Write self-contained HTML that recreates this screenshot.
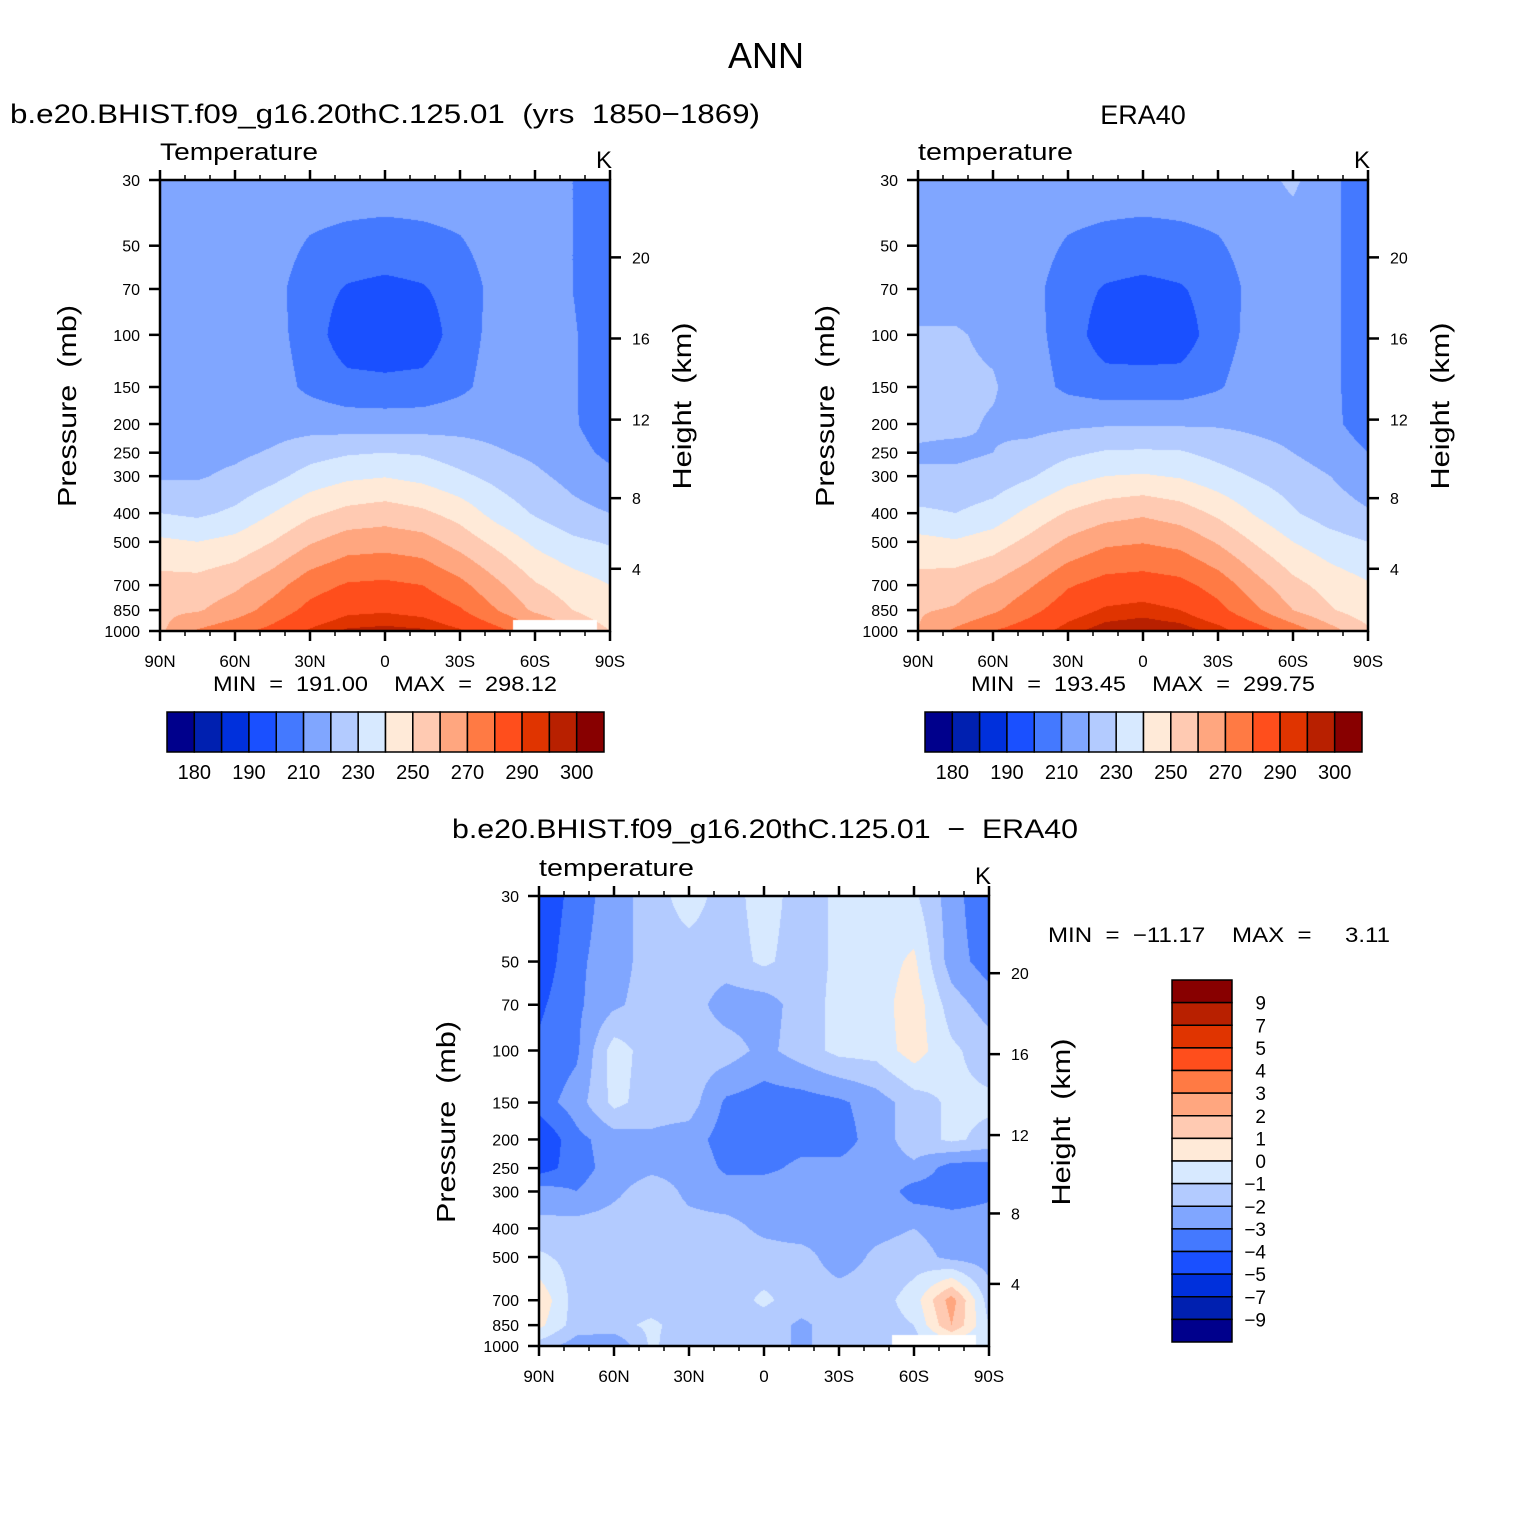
<!DOCTYPE html>
<html><head><meta charset="utf-8">
<style>
body{margin:0;background:#fff;}
#wrap{position:relative;width:1530px;height:1530px;overflow:hidden;background:#fff;font-family:"Liberation Sans",sans-serif;}
canvas{position:absolute;}
svg{position:absolute;left:0;top:0;}
</style></head>
<body>
<div id="wrap">
<canvas id="c1" style="left:160px;top:180px" width="450" height="451"></canvas>
<canvas id="c2" style="left:918px;top:180px" width="450" height="451"></canvas>
<canvas id="c3" style="left:539px;top:896px" width="450" height="450"></canvas>
<svg id="ov" width="1530" height="1530">
<text x="766" y="68" font-size="36" text-anchor="middle">ANN</text>
<text x="10" y="123" font-size="27" textLength="750" lengthAdjust="spacingAndGlyphs" style="white-space:pre">b.e20.BHIST.f09_g16.20thC.125.01  (yrs  1850−1869)</text>
<text x="1143" y="124" font-size="27" text-anchor="middle">ERA40</text>
<text x="452" y="838" font-size="27" textLength="626" lengthAdjust="spacingAndGlyphs" style="white-space:pre">b.e20.BHIST.f09_g16.20thC.125.01  −  ERA40</text>
</svg>
</div>
<script>
const lats=[90,75,60,45,30,15,0,-15,-30,-45,-60,-75,-90];
const levels=[30,50,70,100,150,200,250,300,400,500,700,850,1000];
const modelT=[
[216,216,216,216,215,215,215,215,215,216,215,210,204],
[215,215,215,214,209,207,206,207,209,214,214,210,204],
[215,215,215,213,205,199,197,199,205,213,214,210,204],
[215,215,215,213,206,193,192,193,206,213,214,211,204],
[215,215,215,214,208,204,203,204,208,214,215,211,204],
[216,216,216,216,216,215,215,215,216,216,216,211,205],
[217,217,218,221,226,229,230,229,225,221,218,213,208],
[219,219,222,227,234,238,239.5,237,232,227,222,217,212],
[230,228,232,240,248,253,255,252,246,236,229,223,220],
[242,240,243,250,259,265,266,264,256,247,238,232,229],
[254,254,258,266,276,281,282,280,273,262,251,245,240],
[258,259,265,274,283,288,289,287,281,270,258,250,242],
[258,271,277,283,291,296,297,296,291,283,274,262,250]];
const eraT=[
[216,216,216,216,215,215,215,215,215,216,222,212,205],
[216,216,216,214,209,207,206,207,209,214,214,212,205],
[216,216,216,213,205,199,197,199,205,213,215,212,205],
[221,221,218,213,206,194,193,194,206,213,215,212,205],
[222,222,221,214,208,205,205,205,209,215,216,212,205],
[222,222,219,217,218,219,219,219,219,218,217,212,206],
[219,218,220,223,228,231,231.5,231,227,223,220,215,210],
[221,222,224,229,236,240,241,239,234,229,225,220,214],
[232,230,234,243,251,256,258.5,255,248,239,231,225,221],
[243,241,245,253,262,268,269.5,267,259,249,240,234,230],
[254,256,261,269,279,284,285,283,276,264,253,246,241],
[259,261,268,277,286,291,292.5,290,283,272,260,251,244],
[260,272,280,286,293,298,299.5,298,293,285,276,264,252]];
const diffT=[
[-5,-3.5,-2.5,-1.5,-0.5,-1.5,-0.5,-1.5,-0.8,-0.5,-0.8,-2.5,-4],
[-4.7,-3.2,-2.5,-1.5,-1.5,-1.5,-0.8,-1.5,-0.8,-0.5,0.2,-2.5,-3.5],
[-4.2,-3.2,-2.2,-1.5,-1.5,-2.5,-2.5,-1.5,-0.7,-0.5,0.6,-1.5,-2.5],
[-3.8,-3.2,-0.5,-1.5,-1.5,-1.5,-2.3,-1.5,-0.7,-0.6,0.5,-0.8,-1.5],
[-3.5,-2.5,-0.7,-1.5,-1.5,-3.2,-3.5,-3.5,-3.2,-2.5,-1.5,-0.8,-0.8],
[-5,-3.3,-2.5,-2.2,-2.5,-3.5,-3.5,-3.3,-3.5,-2.5,-1.5,-0.8,-1.3],
[-4.5,-3.5,-2.5,-2.2,-2.3,-3.2,-3.2,-2.8,-2.7,-2.5,-2.2,-3.5,-3.5],
[-2.5,-3,-2.2,-1.5,-2.2,-2.5,-2.5,-2.6,-2.5,-2.2,-3.5,-3.5,-3.2],
[-1.7,-1.5,-1.5,-1.5,-1.7,-1.7,-2.2,-2.5,-2.4,-2.3,-2,-2.5,-2.5],
[-0.8,-1.4,-1.5,-1.5,-1.5,-1.5,-1.6,-1.6,-2.5,-1.8,-1.5,-2.3,-2.5],
[0.8,-1.5,-1.5,-1.5,-1.5,-1.5,-0.8,-1.5,-1.5,-1.5,-0.5,2.5,-1.5],
[0.3,-1.5,-1.3,-0.8,-1.5,-1.5,-1.5,-2.2,-1.5,-1.5,-1,2,-1],
[-1.5,-2.5,-3,-0.8,-1.8,-1.8,-1.5,-2.2,-1.5,-1.5,-1.5,-1,-1]];
const tempLevels=[180,185,190,200,210,220,230,240,250,260,270,280,290,295,300];
const tempLabels=["180","190","210","230","250","270","290","300"];
const diffLevels=[-9,-7,-5,-4,-3,-2,-1,0,1,2,3,4,5,7,9];
const diffLabels=["9","7","5","4","3","2","1","0","−1","−2","−3","−4","−5","−7","−9"];
const maskLat=[-51,-85];
const maskP=921;
const pTicks=[30,50,70,100,150,200,250,300,400,500,700,850,1000];
const latTicks=[90,60,30,0,-30,-60,-90];
const latTickLabels=["90N","60N","30N","0","30S","60S","90S"];
const hTicks=[4,8,12,16,20];
const colors=["#00008c","#0020b0","#0030dc","#1a50ff","#4479ff","#80a6ff","#b3cbff","#d7e9ff","#ffead8","#ffcab2","#ffa67f","#ff7a44","#ff4e1c","#e03400","#b82000","#880000"];

const NS="http://www.w3.org/2000/svg";
const ov=document.getElementById('ov');
function mk(tag,attrs,txt){const e=document.createElementNS(NS,tag);for(const k in attrs)e.setAttribute(k,attrs[k]);if(txt!==undefined)e.textContent=txt;ov.appendChild(e);return e;}
function hex(c){return [parseInt(c.substr(1,2),16),parseInt(c.substr(3,2),16),parseInt(c.substr(5,2),16)];}
const rgb=colors.map(hex);
function bin(v,lv){let k=0;while(k<lv.length&&v>=lv[k])k++;return k;}
function hToP(z){z*=1000;if(z<=11000)return 1013.25*Math.pow(1-2.25577e-5*z,5.25588);return 226.32*Math.exp(-(z-11000)/6341.6);}

function panel(o){
  const W=450,H=o.h;
  const xS=lat=>o.x+(90-lat)/180*W;
  const yS=p=>o.y+Math.log(p/30)/Math.log(1000/30)*H;
  const cv=document.getElementById(o.cid),ctx=cv.getContext('2d');
  const img=ctx.createImageData(W,H);
  const lp=levels.map(Math.log);
  for(let py=0;py<H;py++){
    const p=30*Math.exp((py+0.5)/H*Math.log(1000/30)),l=Math.log(p);
    let j=0;while(j<levels.length-2&&l>lp[j+1])j++;
    const fy=Math.min(1,Math.max(0,(l-lp[j])/(lp[j+1]-lp[j])));
    for(let px=0;px<W;px++){
      const lat=90-(px+0.5)/W*180;
      let i=0;while(i<lats.length-2&&lat<lats[i+1])i++;
      const fx=(lats[i]-lat)/15;
      const g=o.data;
      const v=(1-fy)*((1-fx)*g[j][i]+fx*g[j][i+1])+fy*((1-fx)*g[j+1][i]+fx*g[j+1][i+1]);
      let c=rgb[bin(v,o.lv)];
      if(o.mask&&lat<maskLat[0]&&lat>maskLat[1]&&p>maskP)c=[255,255,255];
      const k=(py*W+px)*4;img.data[k]=c[0];img.data[k+1]=c[1];img.data[k+2]=c[2];img.data[k+3]=255;
    }
  }
  ctx.putImageData(img,0,0);
  const fr=mk('rect',{x:o.x,y:o.y,width:W,height:H,fill:'none',stroke:'#000','stroke-width':2.5});
  
  
  pTicks.forEach(p=>{
    const y=yS(p);
    const t=mk('line',{x1:o.x-11,x2:o.x,y1:y,y2:y,stroke:'#000','stroke-width':2.5});
    
    
    const lb=mk('text',{x:o.x-20,y:y+6,'font-size':16,'text-anchor':'end'},String(p));
    
    
  });
  for(let lat=90;lat>=-90;lat-=10){
    const x=xS(lat),major=(lat%30===0);
    const len=major?10:5;
    const t1=mk('line',{x1:x,x2:x,y1:o.y-len,y2:o.y,stroke:'#000','stroke-width':major?2.5:1.5});
    
    
    const t2=mk('line',{x1:x,x2:x,y1:o.y+H,y2:o.y+H+len,stroke:'#000','stroke-width':major?2.5:1.5});
    
    
  }
  latTicks.forEach((lat,k)=>{
    const lb=mk('text',{x:xS(lat),y:o.y+H+36,'font-size':17,'text-anchor':'middle'},latTickLabels[k]);
    
    
  });
  hTicks.forEach(h=>{
    const y=yS(hToP(h));
    const t=mk('line',{x1:o.x+W,x2:o.x+W+11,y1:y,y2:y,stroke:'#000','stroke-width':2.5});
    
    
    const lb=mk('text',{x:o.x+W+22,y:y+6,'font-size':16},String(h));
    
    
  });
  const cy=o.y+226;
  const yt=mk('text',{x:0,y:0,'font-size':26,'text-anchor':'middle',textLength:202,lengthAdjust:'spacingAndGlyphs',transform:`translate(${o.x-84},${cy}) rotate(-90)`},'Pressure  (mb)');
  
  
  yt.style.whiteSpace='pre';
  const ht=mk('text',{x:0,y:0,'font-size':26,'text-anchor':'middle',textLength:167,lengthAdjust:'spacingAndGlyphs',transform:`translate(${o.x+W+81},${o.y+226}) rotate(-90)`},'Height  (km)');
  
  
  ht.style.whiteSpace='pre';
  const vn=mk('text',{x:o.x,y:o.y-20,'font-size':24,textLength:o.vlen,lengthAdjust:'spacingAndGlyphs'},o.vname);
  
  
  const un=mk('text',{x:o.x+W-14,y:o.y-12,'font-size':24},'K');
  
  
}

function hbar(x0,y0,pre,minmax){
  const bw=437/16;
  colors.forEach((c,k)=>{
    const r=mk('rect',{x:x0+k*bw,y:y0,width:bw,height:40,fill:c,stroke:'#000','stroke-width':1.5});
    
    
  });
  tempLabels.forEach((s,k)=>{
    const lb=mk('text',{x:x0+(2*k+1)*bw,y:y0+67,'font-size':20,'text-anchor':'middle'},s);
    
    
  });
  const mm=mk('text',{x:x0+46,y:y0-21,'font-size':21,textLength:344,lengthAdjust:'spacingAndGlyphs'},minmax);
  
  
  mm.style.whiteSpace='pre';
}

panel({cid:'c1',x:160,y:180,h:451,data:modelT,lv:tempLevels,mask:true,pre:'model',vname:'Temperature',vlen:158});
panel({cid:'c2',x:918,y:180,h:451,data:eraT,lv:tempLevels,mask:false,pre:'era40',vname:'temperature',vlen:155});
panel({cid:'c3',x:539,y:896,h:450,data:diffT,lv:diffLevels,mask:true,pre:'diff',vname:'temperature',vlen:155});
hbar(167,712,'model','MIN  =  191.00    MAX  =  298.12');
hbar(925,712,'era40','MIN  =  193.45    MAX  =  299.75');

const vb=362/16;
for(let k=0;k<16;k++){
  const r=mk('rect',{x:1172,y:980+k*vb,width:60,height:vb,fill:colors[15-k],stroke:'#000','stroke-width':1.5});
  
  
}
diffLabels.forEach((s,k)=>{
  const lb=mk('text',{x:1266,y:980+(k+1)*vb+7,'font-size':19,'text-anchor':'end'},s);
  
  
});
const dm=mk('text',{x:1048,y:942,'font-size':21,textLength:342,lengthAdjust:'spacingAndGlyphs'},'MIN  =  −11.17    MAX  =     3.11');


dm.style.whiteSpace='pre';
</script>
</body></html>
